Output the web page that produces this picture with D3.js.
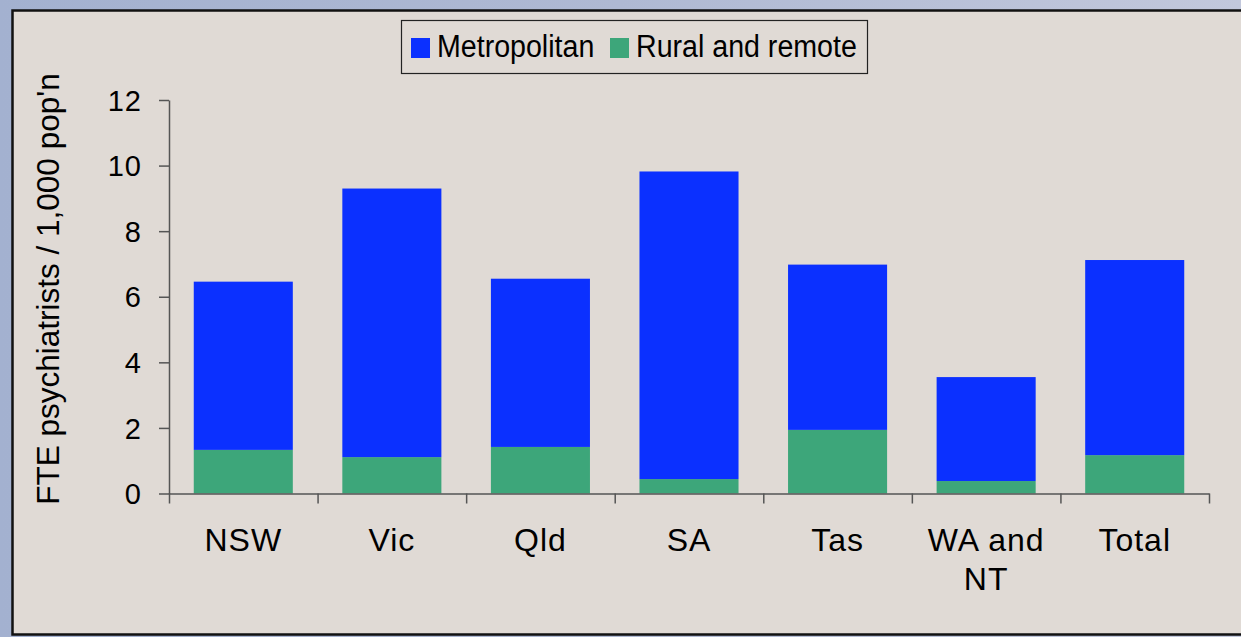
<!DOCTYPE html>
<html lang="en">
<head>
    <meta charset="UTF-8">
    <title>FTE psychiatrists per 1,000 pop'n</title>
    <script src="https://d3js.org/d3.v7.min.js"></script>
    <style>
        body { margin: 0; background: #a9b5d1; }
        svg { display: block; }
        text { font-family: "Liberation Sans", Arial, sans-serif; fill: #000; }
        .axis path, .axis line { stroke: #555; stroke-width: 1.5; }
    </style>
</head>
<body>
    <svg id="chart" width="1241" height="637"></svg>

    <script>
        // Data
        const categories = ["NSW", "Vic", "Qld", "SA", "Tas", "WA and NT", "Total"];
        const rural = [1.33, 1.11, 1.42, 0.44, 1.94, 0.38, 1.17];
        const metro = [5.13, 8.19, 5.13, 9.38, 5.04, 3.17, 5.95];
        const yTicks = [0, 2, 4, 6, 8, 10, 12];
        const seriesNames = ["Metropolitan", "Rural and remote"];
        const colors = { "Metropolitan": "#0b30ff", "Rural and remote": "#3da67a" };

        const svg = d3.select("#chart"),
            width = +svg.attr("width"),
            height = +svg.attr("height");

        // Outer blue backdrop
        const defs = svg.append("defs");
        const grad = defs.append("linearGradient").attr("id", "bg").attr("x1", 0).attr("x2", 1).attr("y1", 0).attr("y2", 0);
        grad.append("stop").attr("offset", "0%").attr("stop-color", "#a3b1d0");
        grad.append("stop").attr("offset", "50%").attr("stop-color", "#afb9d3");
        grad.append("stop").attr("offset", "100%").attr("stop-color", "#c2c8dc");
        svg.append("rect").attr("width", width).attr("height", height).attr("fill", "url(#bg)");

        // Chart panel
        svg.append("rect")
            .attr("x", 12.5).attr("y", 10.5)
            .attr("width", 1250).attr("height", 624)
            .attr("fill", "#e0dad5")
            .attr("stroke", "#111").attr("stroke-width", 2.5);

        const margin = { left: 169, right: 32, top: 100, bottom: 143.5 };
        const plotW = width - margin.left - margin.right;   // 1040
        const plotH = height - margin.top - margin.bottom;  // ~393.5

        const x = d3.scaleBand()
            .domain(categories)
            .range([margin.left, margin.left + plotW])
            .paddingInner(1 / 3)
            .paddingOuter(1 / 6);

        const y = d3.scaleLinear()
            .domain([0, 12])
            .range([margin.top + plotH, margin.top]);

        // Stacked bars
        const table = categories.map((c, i) => ({ cat: c, "Rural and remote": rural[i], "Metropolitan": metro[i] }));
        const stack = d3.stack().keys(["Rural and remote", "Metropolitan"])(table);

        svg.append("g").selectAll("g")
            .data(stack)
            .enter().append("g")
            .attr("fill", d => colors[d.key])
            .selectAll("rect")
            .data(d => d)
            .enter().append("rect")
            .attr("x", d => x(d.data.cat))
            .attr("y", d => y(d[1]))
            .attr("width", x.bandwidth())
            .attr("height", d => y(d[0]) - y(d[1]));

        // Y axis
        const yAxis = svg.append("g")
            .attr("class", "axis")
            .attr("transform", "translate(" + margin.left + ",0)")
            .call(d3.axisLeft(y).tickValues(yTicks).tickSize(10).tickPadding(17).tickSizeOuter(0));
        yAxis.selectAll("text")
            .style("font-size", "29px")
            .style("letter-spacing", "1px")
            .attr("dy", "0.35em");

        // X axis: boundary ticks
        const bounds = d3.scaleLinear().domain([0, categories.length]).range([margin.left, margin.left + plotW]);
        svg.append("g")
            .attr("class", "axis")
            .attr("transform", "translate(0," + y(0) + ")")
            .call(d3.axisBottom(bounds).ticks(categories.length).tickSize(10).tickSizeOuter(0).tickFormat(""));

        // X axis labels
        const xLabels = svg.append("g")
            .attr("transform", "translate(0," + y(0) + ")")
            .call(d3.axisBottom(x).tickSize(0).tickPadding(0));
        xLabels.select(".domain").remove();
        xLabels.selectAll("text")
            .style("font-size", "32px")
            .style("letter-spacing", "1px")
            .attr("y", 57)
            .attr("dy", 0)
            .call(wrap, x.step() - 12);

        // Y axis title
        svg.append("text")
            .attr("transform", "translate(59," + 289 + ") rotate(-90)")
            .attr("text-anchor", "middle")
            .style("font-size", "31.5px")
            .text("FTE psychiatrists / 1,000 pop'n");

        // Legend
        const legend = svg.append("g");
        legend.append("rect")
            .attr("x", 401.5).attr("y", 20.5)
            .attr("width", 466).attr("height", 53)
            .attr("fill", "#e0dad5")
            .attr("stroke", "#222").attr("stroke-width", 1.2);
        const legendX = [411, 610];
        seriesNames.forEach((name, i) => {
            legend.append("rect")
                .attr("x", legendX[i]).attr("y", 38)
                .attr("width", 19).attr("height", 20)
                .attr("fill", colors[name]);
            legend.append("text")
                .attr("x", legendX[i] + 26).attr("y", 57)
                .attr("transform", "translate(0,57) scale(1,1.1) translate(0,-57)")
                .style("font-size", "28.6px")
                .text(name);
        });

        // Wrap long tick labels onto two lines
        function wrap(sel, maxW) {
            sel.each(function () {
                const t = d3.select(this);
                const words = t.text().split(/\s+/);
                const y0 = t.attr("y");
                t.text(null);
                let line = [];
                let lineNo = 0;
                let tspan = t.append("tspan").attr("x", 0).attr("y", y0);
                words.forEach(w => {
                    line.push(w);
                    tspan.text(line.join(" "));
                    if (tspan.node().getComputedTextLength() > maxW && line.length > 1) {
                        line.pop();
                        tspan.text(line.join(" "));
                        line = [w];
                        lineNo++;
                        tspan = t.append("tspan").attr("x", 0).attr("y", +y0 + lineNo * 39).text(w);
                    }
                });
            });
        }
    </script>
</body>
</html>
